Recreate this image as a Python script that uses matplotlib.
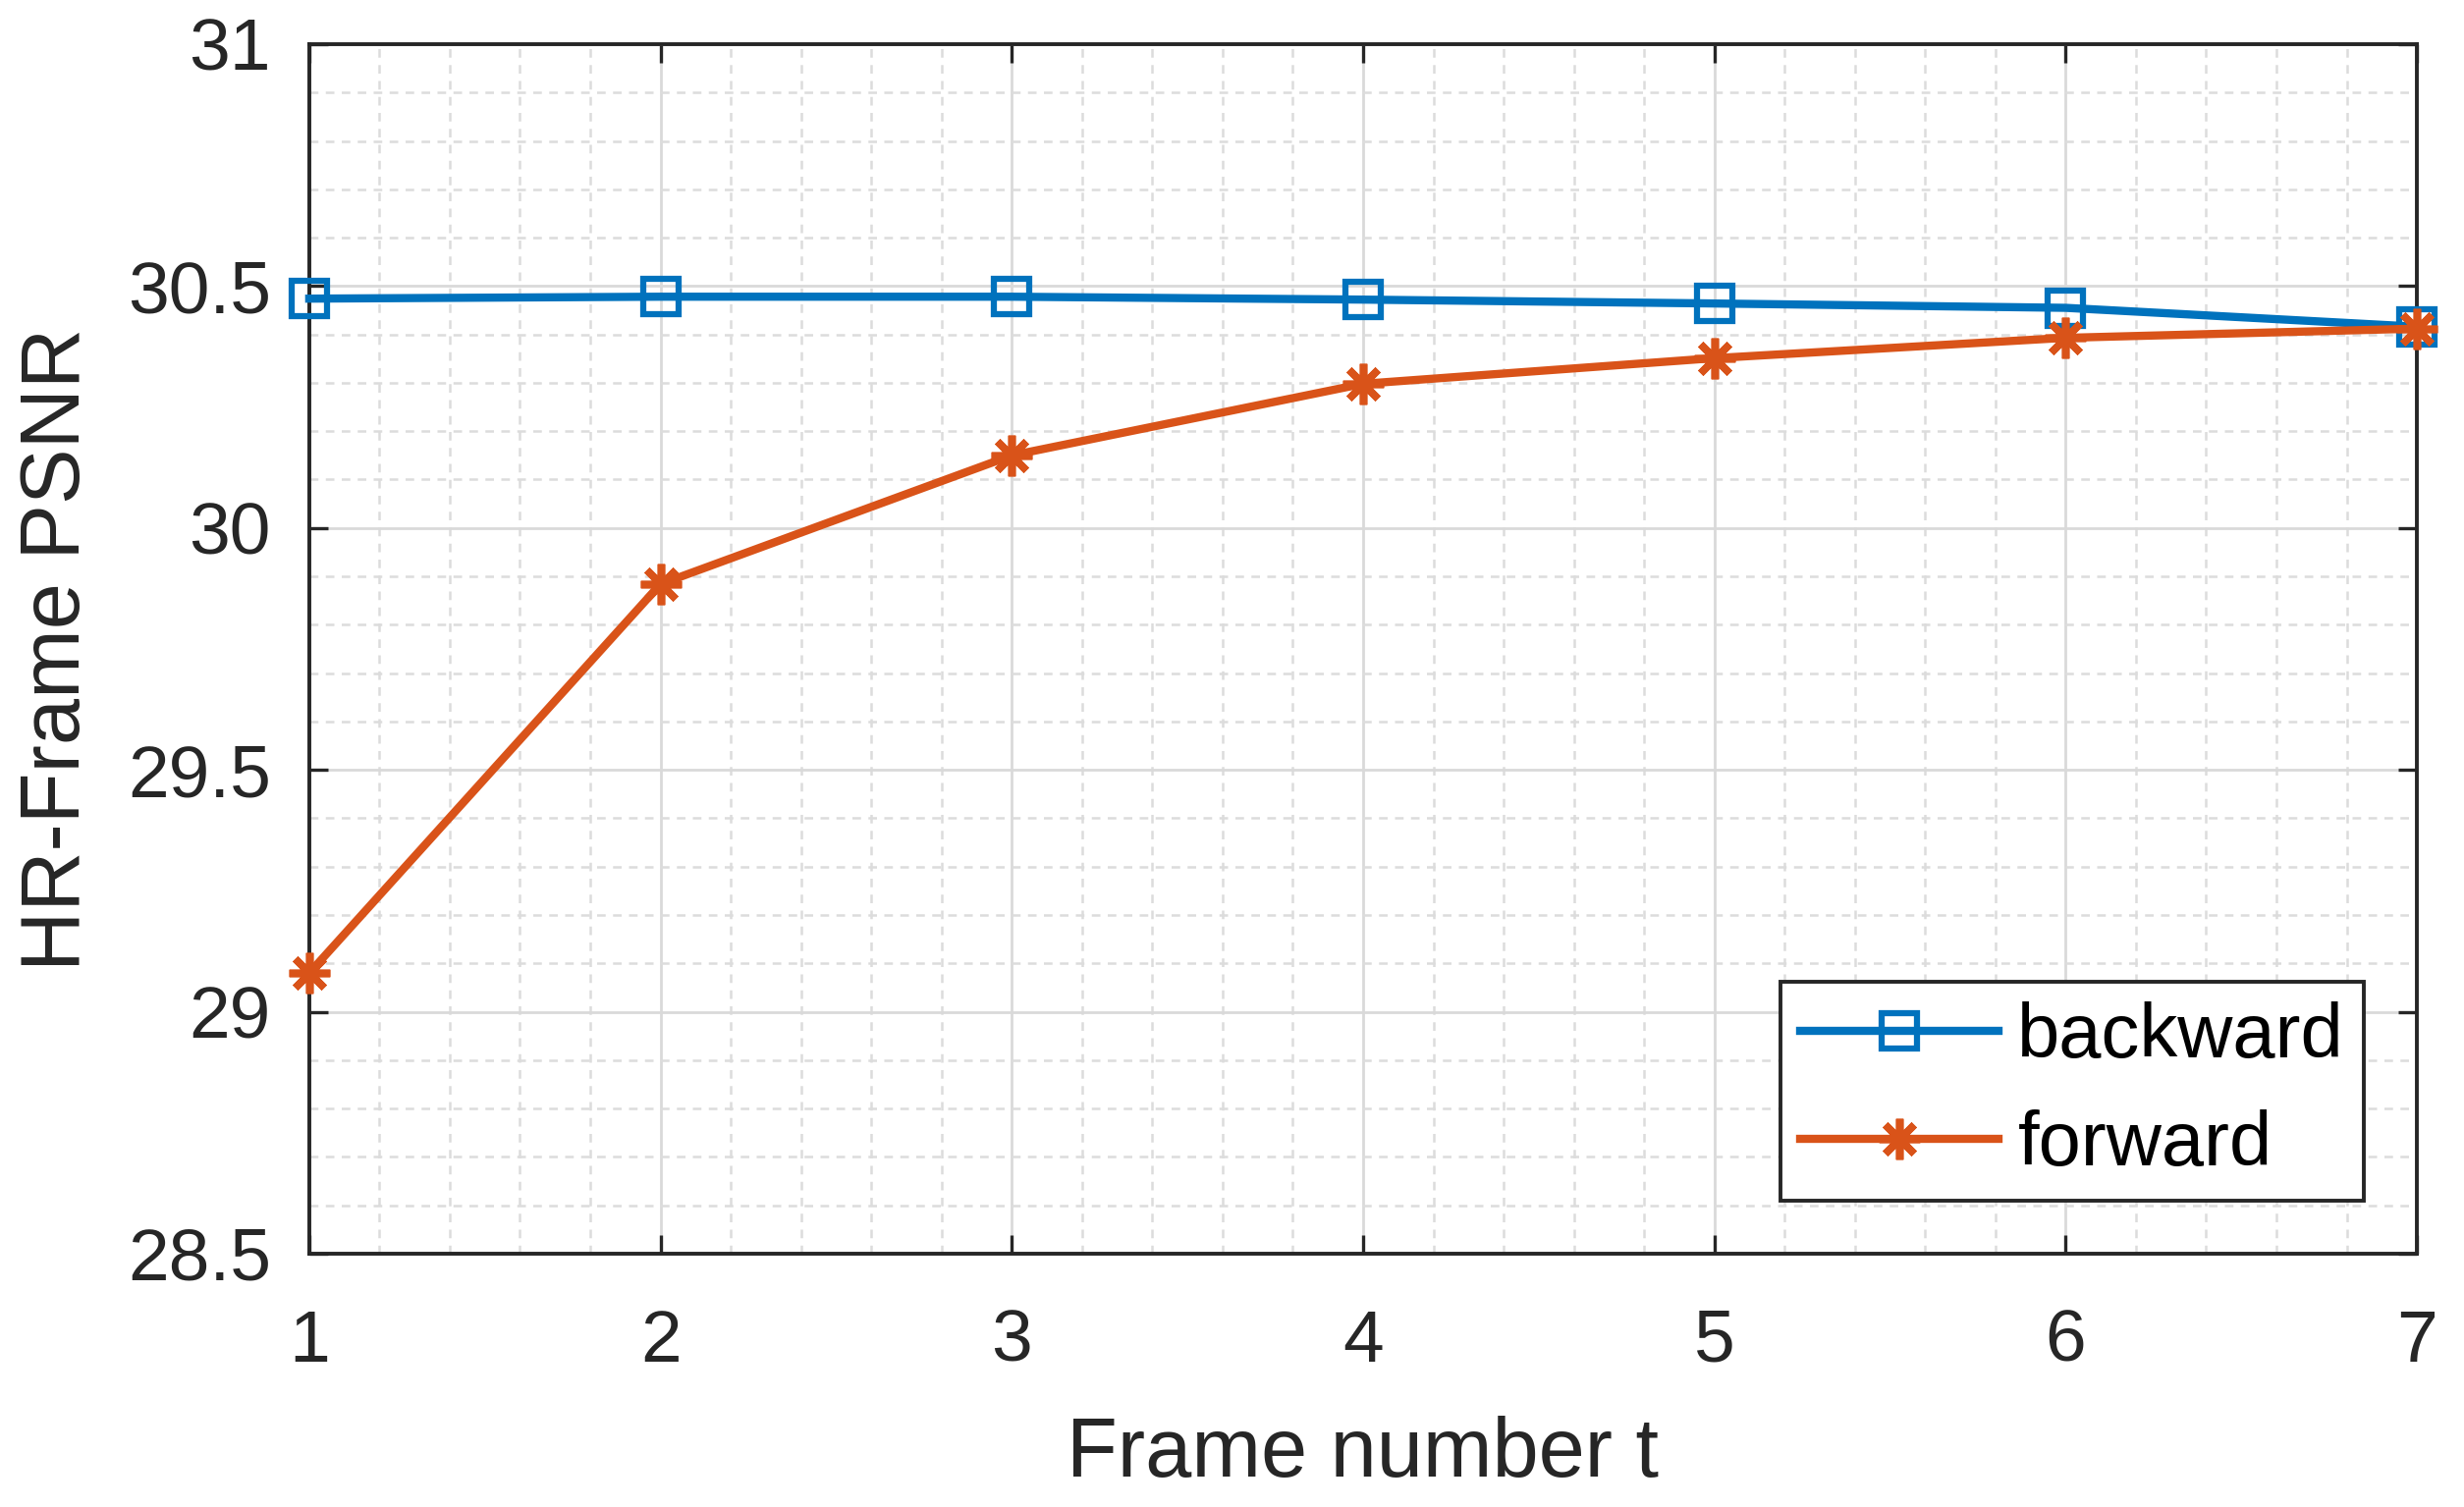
import numpy as np
import matplotlib
matplotlib.use('Agg')
import matplotlib.pyplot as plt
from matplotlib.ticker import MultipleLocator

# Data
frames = [1, 2, 3, 4, 5, 6, 7]
backward = [30.474, 30.478, 30.478, 30.472, 30.464, 30.455, 30.416]
forward = [29.080, 29.884, 30.150, 30.298, 30.351, 30.393, 30.412]

plt.rcParams['font.family'] = ['Liberation Sans', 'DejaVu Sans']

fig = plt.figure(figsize=(25.09, 15.35), dpi=100)
ax = fig.add_axes([0.1255, 0.1681, 0.8554, 0.8026])

ax.plot(frames, backward, color='#0072BD', linewidth=6, marker='s', markersize=26,
        markerfacecolor='none', markeredgewidth=4.5, label='backward', clip_on=False, zorder=3)
ax.plot(frames, forward, color='#D95319', linewidth=6, marker=(8, 2, 0), markersize=30,
        markeredgewidth=5.5, label='forward', clip_on=False, zorder=3)

ax.set_xlim(1, 7)
ax.set_ylim(28.5, 31)
ax.xaxis.set_major_locator(MultipleLocator(1))
ax.xaxis.set_minor_locator(MultipleLocator(0.2))
ax.yaxis.set_minor_locator(MultipleLocator(0.1))
ax.set_yticks([28.5, 29, 29.5, 30, 30.5, 31])
ax.set_yticklabels(['28.5', '29', '29.5', '30', '30.5', '31'])

ax.grid(which='major', color='#d9d9d9', linewidth=2.0, linestyle='-')
ax.grid(which='minor', color='#dcdcdc', linewidth=1.8, linestyle=(0, (3.5, 3)))
ax.set_axisbelow(True)

ax.tick_params(which='major', direction='in', length=14, width=2.4, color='#262626',
               labelsize=54, labelcolor='#262626', top=True, right=True)
ax.tick_params(axis='x', pad=40)
ax.tick_params(axis='y', pad=28)
ax.tick_params(which='minor', length=0)
for s in ax.spines.values():
    s.set_linewidth(2.8)
    s.set_color('#262626')

ax.set_xlabel('Frame number t', fontsize=61, color='#262626', labelpad=29)
ax.set_ylabel('HR-Frame PSNR', fontsize=61, color='#262626', labelpad=22)

leg = ax.legend(loc='lower right', fontsize=56, frameon=True, fancybox=False,
                edgecolor='#262626', handlelength=2.6, handletextpad=0.25,
                borderaxespad=0.7, labelspacing=0.48, borderpad=0.25)
leg.get_frame().set_linewidth(2.8)
leg.get_frame().set_alpha(1)

fig.savefig('out.png', dpi=100, facecolor='white')
